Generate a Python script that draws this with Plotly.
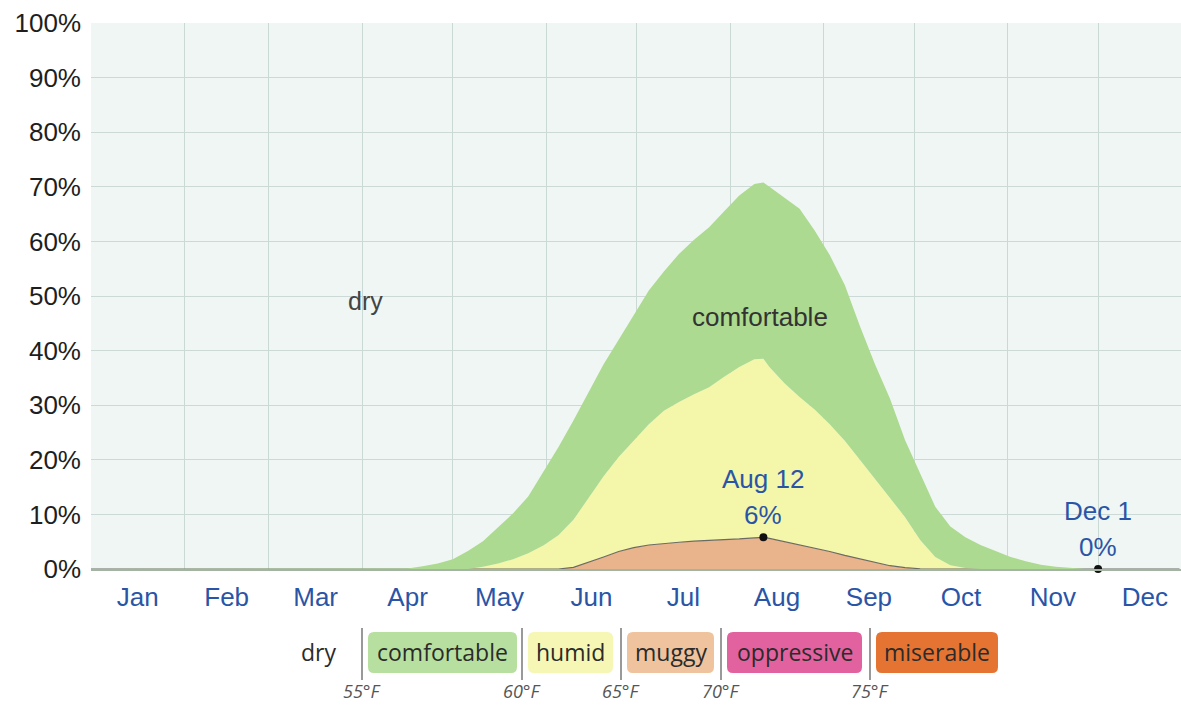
import plotly.graph_objects as go

# ---- data (day of year, 0 = Jan 1) ----
days = [0, 95, 100, 105, 110, 115, 120, 125, 130, 135, 140, 145, 150, 155, 160, 165,
        170, 175, 180, 185, 190, 195, 200, 205, 210, 215, 220, 223, 225, 230, 235,
        240, 245, 250, 255, 260, 265, 270, 275, 280, 285, 290, 295, 300, 305, 310,
        315, 320, 325, 330, 335, 361]

muggy = [0, 0, 0, 0, 0, 0, 0, 0, 0, 0, 0, 0, 0, 0, 0.3, 1.2,
         2.2, 3.2, 3.9, 4.4, 4.7, 4.9, 5.1, 5.2, 5.4, 5.5, 5.7, 5.8, 5.6, 5.0, 4.5,
         3.8, 3.2, 2.5, 1.9, 1.2, 0.6, 0.25, 0.05, 0, 0, 0, 0, 0, 0, 0,
         0, 0, 0, 0, 0, 0]

humid = [0, 0, 0, 0, 0, 0, 0, 0, 0.4, 1.0, 1.8, 2.9, 4.3, 6.2, 8.7, 11.8,
         14.8, 17.3, 19.6, 22.1, 24.3, 25.7, 26.9, 28.1, 29.8, 31.5, 32.7, 32.7, 31.4, 29.0, 27.0,
         25.4, 23.3, 21.0, 18.1, 15.3, 12.6, 9.25, 5.25, 2.2, 0.7, 0.2, 0, 0, 0, 0,
         0, 0, 0, 0, 0, 0]

comfortable = [0, 0, 0, 0.1, 0.5, 1.0, 1.8, 3.3, 4.7, 6.6, 8.4, 10.4, 13.5, 16.1, 18.2, 19.4,
               20.5, 21.5, 23.0, 24.5, 25.5, 27.1, 28.3, 29.3, 30.3, 31.4, 32.1, 32.3, 33.0, 34.0, 34.5,
               32.8, 31.0, 28.5, 24.5, 21.0, 18.0, 14.1, 12.3, 9.2, 7.1, 5.6, 4.4, 3.3, 2.2, 1.4,
               0.8, 0.4, 0.15, 0, 0, 0]

months = ["Jan", "Feb", "Mar", "Apr", "May", "Jun", "Jul", "Aug", "Sep", "Oct", "Nov", "Dec"]
month_starts = [0, 31, 59, 90, 120, 151, 181, 212, 243, 273, 304, 334]
month_lengths = [31, 28, 31, 30, 31, 30, 31, 31, 30, 31, 30, 31]
month_mids = [s + l / 2 for s, l in zip(month_starts, month_lengths)]

y_ticks = list(range(0, 101, 10))
y_ticktext = [f"{v}%" for v in y_ticks]

highlight_labels = ["Aug 12", "Dec 1"]
highlight_days = [223, 334]
highlight_values = [5.8, 0]

legend_labels = ["dry", "comfortable", "humid", "muggy", "oppressive", "miserable"]
legend_temps = ["55°F", "60°F", "65°F", "70°F", "75°F"]

# ---- styling ----
C_COMF = "#acda90"
C_HUMID = "#f4f6aa"
C_MUGGY = "#e9b38c"
LEG_COLORS = [None, "#b7e0a0", "#f6f7b5", "#eec39d", "#e2629f", "#e57332"]
BLUE = "#2a55a6"

W, H = 1181, 705
L, R, T, B = 91, 0, 23, 136
PW, PH = W - L - R, H - T - B


def px(x):
    return (x - L) / PW


def py(y):
    return (H - B - y) / PH


fig = go.Figure()
fig.add_trace(go.Scatter(x=days, y=muggy, stackgroup="one", mode="lines",
                         line=dict(color="#6b6b63", width=1.2), fillcolor=C_MUGGY,
                         name="muggy", hoverinfo="skip"))
fig.add_trace(go.Scatter(x=days, y=humid, stackgroup="one", mode="lines",
                         line=dict(width=0), fillcolor=C_HUMID,
                         name="humid", hoverinfo="skip"))
fig.add_trace(go.Scatter(x=days, y=comfortable, stackgroup="one", mode="lines",
                         line=dict(width=0), fillcolor=C_COMF,
                         name="comfortable", hoverinfo="skip"))
fig.add_trace(go.Scatter(x=highlight_days, y=highlight_values, mode="markers",
                         marker=dict(color="#111", size=8), hoverinfo="skip",
                         cliponaxis=False))

# highlight labels
for lab, d, v in zip(highlight_labels, highlight_days, highlight_values):
    fig.add_annotation(x=d, y=v, text=lab, showarrow=False, yanchor="middle",
                       yshift=58, font=dict(size=26, color=BLUE,
                                            family="Liberation Sans, Arial"))
    fig.add_annotation(x=d, y=v, text=f"{round(v)}%", showarrow=False, yanchor="middle",
                       yshift=22, font=dict(size=26, color=BLUE,
                                            family="Liberation Sans, Arial"))

# region labels
fig.add_annotation(x=91, y=49, text="dry", showarrow=False,
                   font=dict(size=25, color="#444", family="Liberation Sans, Arial"))
fig.add_annotation(x=222, y=46.2, text="comfortable", showarrow=False,
                   font=dict(size=26, color="#333", family="Liberation Sans, Arial"))

# ---- bottom legend ----
boxes = [(None, None), (368, 517), (528, 613), (627, 714), (727, 862), (876, 998)]
text_x = [318, None, None, None, None, None]
seps = [362, 522, 621, 721, 870]
by0, by1 = 632, 673
shapes = []


def rounded(x0, x1, y0, y1, r=6):
    rx, ry = r / PW, r / PH
    X0, X1, Y0, Y1 = px(x0), px(x1), py(y0), py(y1)
    return (f"M {X0+rx},{Y0} L {X1-rx},{Y0} Q {X1},{Y0} {X1},{Y0-ry} "
            f"L {X1},{Y1+ry} Q {X1},{Y1} {X1-rx},{Y1} L {X0+rx},{Y1} "
            f"Q {X0},{Y1} {X0},{Y1+ry} L {X0},{Y0-ry} Q {X0},{Y0} {X0+rx},{Y0} Z")


for i, lab in enumerate(legend_labels):
    if boxes[i][0] is None:
        cx = text_x[i]
    else:
        x0, x1 = boxes[i]
        cx = (x0 + x1) / 2
        shapes.append(dict(type="path", xref="paper", yref="paper",
                           path=rounded(x0, x1, by0, by1), fillcolor=LEG_COLORS[i],
                           line=dict(width=0), layer="above"))
    fig.add_annotation(x=px(cx), y=py((by0 + by1) / 2 - 1), xref="paper", yref="paper",
                       text=lab, showarrow=False, xanchor="center", yanchor="middle",
                       font=dict(size=23, color="#2b2b2b", family="Open Sans"))

for sx, t in zip(seps, legend_temps):
    shapes.append(dict(type="line", xref="paper", yref="paper",
                       x0=px(sx), x1=px(sx), y0=py(628), y1=py(680),
                       line=dict(color="#555", width=1.2)))
    fig.add_annotation(x=px(sx), y=py(691), xref="paper", yref="paper",
                       text=f"<i>{t}</i>", showarrow=False, xanchor="center",
                       yanchor="middle",
                       font=dict(size=18, color="#555", family="Open Sans"))

fig.update_layout(
    width=W, height=H, autosize=False,
    margin=dict(l=L, r=R, t=T, b=B, pad=0, autoexpand=False),
    paper_bgcolor="white",
    plot_bgcolor="#eff6f3",
    showlegend=False,
    shapes=shapes,
    xaxis=dict(range=[0, 361.5], tickmode="array", tickvals=month_mids,
               ticktext=months, showgrid=False, zeroline=False, automargin=False,
               showline=True, linecolor="#a4b4a2", linewidth=2,
               ticks="", ticklabelstandoff=4,
               tickfont=dict(size=26, color=BLUE, family="Liberation Sans, Arial"),
               minor=dict(tickmode="array", tickvals=month_starts, showgrid=True,
                          gridcolor="#cbd9d5", gridwidth=1, ticks=""),
               fixedrange=True),
    yaxis=dict(range=[0, 100], tickmode="array", tickvals=y_ticks, ticktext=y_ticktext,
               showgrid=True, gridcolor="#cdd9d6", gridwidth=1, automargin=False,
               zeroline=False, ticks="", ticklabelstandoff=9,
               tickfont=dict(size=26, color="#1e1e1e", family="Liberation Sans, Arial"),
               fixedrange=True),
)

fig.write_html("out.html", config={"responsive": False, "displayModeBar": False},
               post_script="document.body.style.margin='0px';document.body.style.overflow='hidden';")
